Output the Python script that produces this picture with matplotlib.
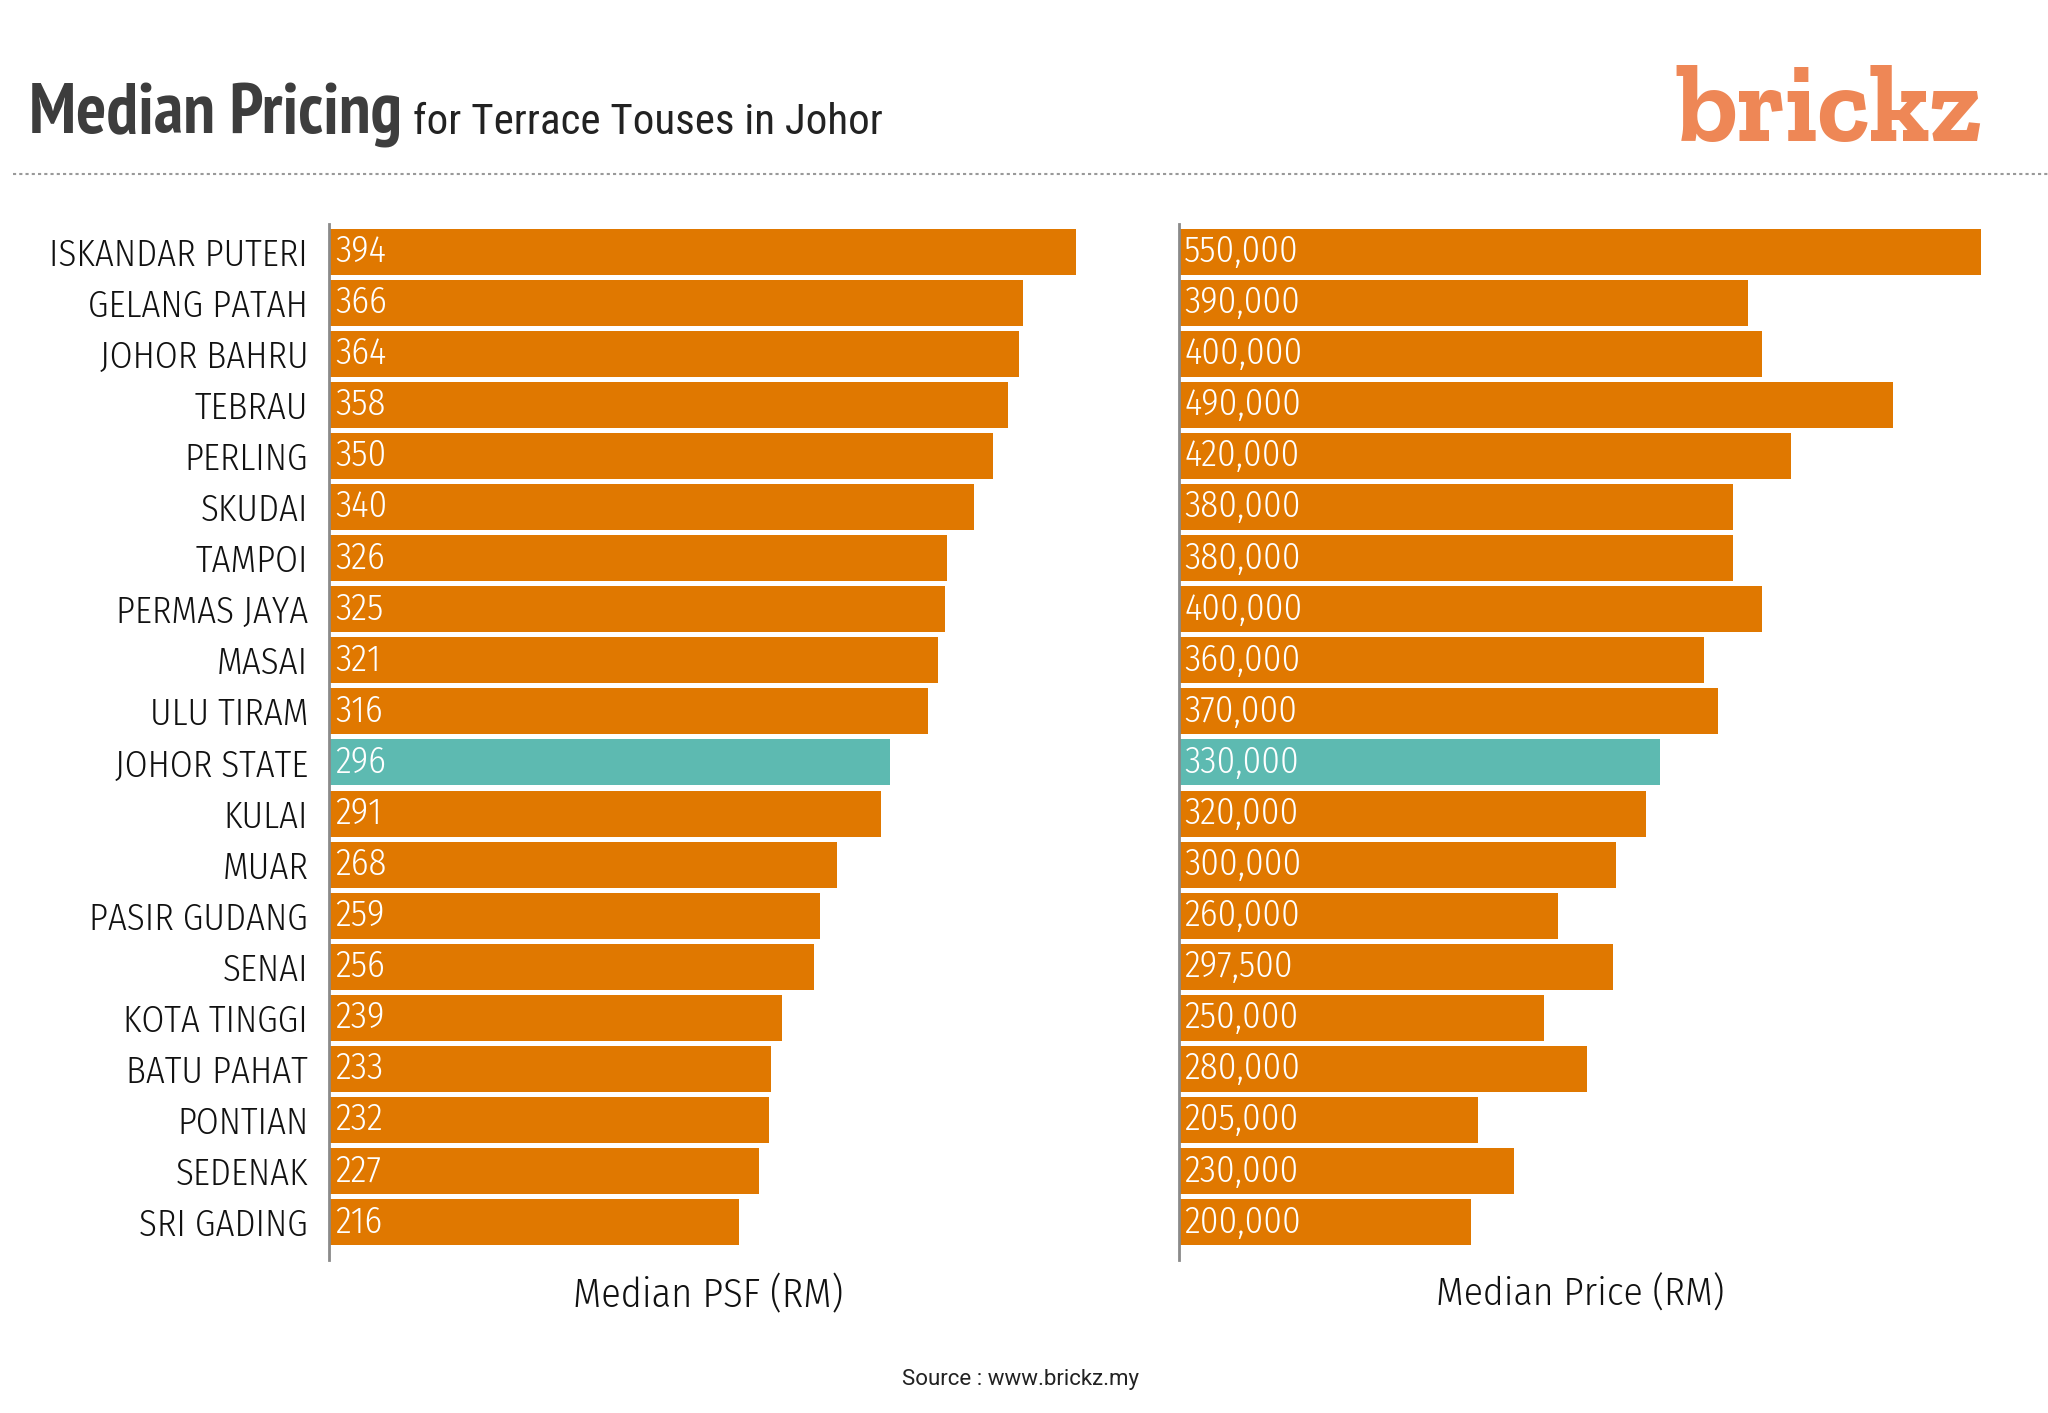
import numpy as np
import matplotlib
matplotlib.use("Agg")
import matplotlib.pyplot as plt

# data
areas = ["ISKANDAR PUTERI", "GELANG PATAH", "JOHOR BAHRU", "TEBRAU", "PERLING",
         "SKUDAI", "TAMPOI", "PERMAS JAYA", "MASAI", "ULU TIRAM", "JOHOR STATE",
         "KULAI", "MUAR", "PASIR GUDANG", "SENAI", "KOTA TINGGI", "BATU PAHAT",
         "PONTIAN", "SEDENAK", "SRI GADING"]
psf = [394, 366, 364, 358, 350, 340, 326, 325, 321, 316, 296,
       291, 268, 259, 256, 239, 233, 232, 227, 216]
price = [550000, 390000, 400000, 490000, 420000, 380000, 380000, 400000, 360000, 370000, 330000,
         320000, 300000, 260000, 297500, 250000, 280000, 205000, 230000, 200000]
highlight = "JOHOR STATE"

orange = "#E07800"
teal = "#5DBAB1"
label_font = ["Fira Sans Condensed", "DejaVu Sans"]
title_font = ["PT Sans Narrow", "DejaVu Sans"]
sub_font = ["Roboto Condensed", "DejaVu Sans"]
logo_font = ["Zilla Slab", "DejaVu Serif"]

W, H = 2048, 1413
fig = plt.figure(figsize=(W / 100, H / 100), dpi=100)

y = np.arange(len(areas))
colors = [teal if a == highlight else orange for a in areas]

# axes boxes in pixels
bottom_px, height_px = 1413 - 1260, 1036
ax1 = fig.add_axes([329 / W, bottom_px / H, 830 / W, height_px / H])
ax2 = fig.add_axes([1179 / W, bottom_px / H, 860 / W, height_px / H])
psf_max = 830 / 1.896
price_max = 860 / 801.9 * 550000


def style(ax):
    ax.set_ylim(19.74, -0.54)
    for s in ["top", "right", "bottom"]:
        ax.spines[s].set_visible(False)
    ax.spines["left"].set_color("#8a8a8a")
    ax.spines["left"].set_linewidth(2)
    ax.set_xticks([])
    ax.tick_params(axis="y", length=0)


# left: median psf
ax1.barh(y, psf, height=0.9, color=colors)
ax1.set_xlim(0, psf_max)
style(ax1)
ax1.set_yticks(y)
ax1.set_yticklabels(areas, family=label_font, fontweight=300, fontsize=26.5, color="#111111")
ax1.tick_params(axis="y", pad=15)
for yi, v in zip(y, psf):
    ax1.text(psf_max * 6 / 830, yi, f"{v}", color="white", va="center", ha="left",
             family=label_font, fontweight=300, fontsize=26.5)

# right: median price
ax2.barh(y, price, height=0.9, color=colors)
ax2.set_xlim(0, price_max)
style(ax2)
ax2.set_yticks([])
for yi, v in zip(y, price):
    ax2.text(price_max * 5 / 860, yi, f"{v:,}", color="white", va="center", ha="left",
             family=label_font, fontweight=300, fontsize=26.5)

fig.text(708 / W, 1 - 1295 / H, "Median PSF (RM)", family=label_font, fontweight=300,
         fontsize=29, color="#111111", ha="center", va="center")
fig.text(1580 / W, 1 - 1294 / H, "Median Price (RM)", family=label_font, fontweight=300,
         fontsize=28.5, color="#111111", ha="center", va="center")

# header
fig.text(29 / W, 1 - 134 / H, "Median Pricing", family=title_font, fontweight="bold",
         fontsize=51, color="#3d3d3d", ha="left", va="baseline")
fig.text(413 / W, 1 - 134 / H, "for Terrace Touses in Johor", family=sub_font,
         fontsize=31, color="#222222", ha="left", va="baseline")
fig.text(1983 / W, 1 - 141 / H, "brickz", family=logo_font, fontweight="bold",
         fontsize=79, color="#EE8756", ha="right", va="baseline")
fig.add_artist(plt.Line2D([13 / W, 1], [1 - 174 / H, 1 - 174 / H], transform=fig.transFigure,
                          color="#999999", lw=1.5, ls=(0, (1.5, 1.5))))

fig.text(1020 / W, 1 - 1379 / H, "Source : www.brickz.my", family=["Roboto", "DejaVu Sans"],
         fontsize=16, color="#222222", ha="center", va="center")

fig.savefig("out.png", dpi=100)
